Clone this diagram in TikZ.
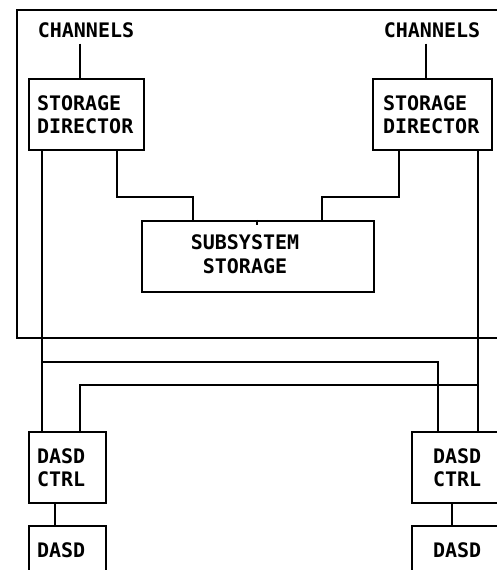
\documentclass[tikz,border=0pt]{standalone}
\usepackage{fontspec}
\newfontfamily\ibmfont{DejaVu Sans Mono}
\begin{document}
\begin{tikzpicture}[x=1pt,y=-1pt,line width=2.2pt,
  txt/.style={font=\ibmfont\bfseries\fontsize{20}{23.5}\selectfont},
  box/.style={txt,draw,line width=2.2pt,rectangle,align=left,minimum height=71pt},
  lbl/.style={txt,inner xsep=0pt,inner ysep=5pt}]
\useasboundingbox (0,0) rectangle (497,570);
\clip (0,0) rectangle (497,570);
% outer frame
\draw (17,10) rectangle (530,338);
% nodes
\node[lbl] (ch1) at (86,30) {CHANNELS};
\node[lbl] (ch2) at (432,30) {CHANNELS};
\node[box,text width=99pt,inner xsep=8pt] (sd1) at (86.5,114.5) {STORAGE\\DIRECTOR};
\node[box,text width=99pt,inner xsep=10pt] (sd2) at (432.5,114.5) {STORAGE\\DIRECTOR};
\node[box,minimum width=232pt] (ss) at (258,256.5) {};
\node[lbl,align=center,inner ysep=0pt] (sstext) at (245,254) {SUBSYSTEM\\STORAGE};
\node[box,text width=61pt,inner xsep=8pt] (ctrl1) at (67.5,467.5) {DASD\\CTRL};
\node[box,text width=49pt,inner xsep=21pt] (ctrl2) at (457.5,467.5) {DASD\\CTRL};
\node[box,text width=61pt,inner xsep=8pt] (dasd1) at (67.5,561.5) {DASD\\~};
\node[box,text width=49pt,inner xsep=21pt] (dasd2) at (457.5,561.5) {DASD\\~};
% reference coordinates
\coordinate (xch1) at (80,0);
\coordinate (xch2) at (426,0);
\coordinate (xa) at (42,0);
\coordinate (xb) at (117,0);
\coordinate (xc) at (193,0);
\coordinate (xd) at (399,0);
\coordinate (xe) at (322,0);
\coordinate (xt) at (257,0);
\coordinate (xf) at (438,0);
\coordinate (xg) at (478,0);
\coordinate (xh) at (80,0);
\coordinate (xi) at (55,0);
\coordinate (xj) at (452,0);
\coordinate (yA) at (0,197);
\coordinate (yB) at (0,362);
\coordinate (yC) at (0,385);
% connectors
\draw (ch1.south -| xch1) -- (sd1.north -| xch1);
\draw (ch2.south -| xch2) -- (sd2.north -| xch2);
\draw (sd1.south -| xb) -- (xb |- yA) -| (ss.north -| xc);
\draw (sd2.south -| xd) -- (xd |- yA) -| (ss.north -| xe);
\draw (ss.north -| xt) -- ++(0,5);
\draw (sd1.south -| xa) -- (ctrl1.north -| xa);
\draw (xa |- yB) -| (ctrl2.north -| xf);
\draw (sd2.south -| xg) -- (ctrl2.north -| xg);
\draw (xg |- yC) -| (ctrl1.north -| xh);
\draw (ctrl1.south -| xi) -- (dasd1.north -| xi);
\draw (ctrl2.south -| xj) -- (dasd2.north -| xj);
\end{tikzpicture}
\end{document}
